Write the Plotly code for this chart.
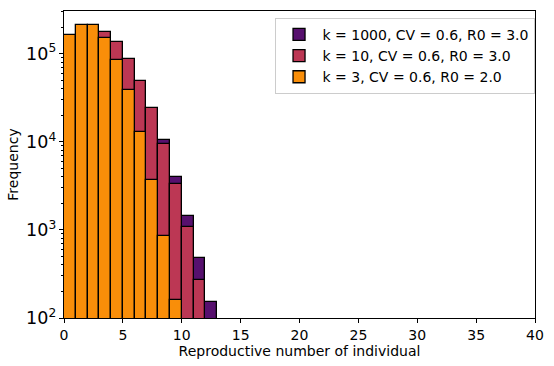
import plotly.graph_objects as go

# Histogram counts per unit-width bin (bin i covers [i, i+1))
bin_left = list(range(13))

counts_k1000 = [43000, 128000, 183000, 170000, 130000, 84000, 48000, 23500, 10400, 4000, 1430, 476, 150]
counts_k10 = [46000, 132000, 186000, 175000, 134000, 86400, 49100, 23900, 9370, 3290, 1080, 268, 80]
counts_k3 = [163000, 212000, 210000, 151000, 85800, 38300, 13000, 3650, 857, 161, 40, 8, 1]

series = [
    ("k = 1000, CV = 0.6, R0 = 3.0", counts_k1000, "#57106e"),
    ("k = 10, CV = 0.6, R0 = 3.0", counts_k10, "#bc3754"),
    ("k = 3, CV = 0.6, R0 = 2.0", counts_k3, "#f98e09"),
]

x_ticks = [0, 5, 10, 15, 20, 25, 30, 35, 40]

fig = go.Figure()
for name, counts, color in series:
    fig.add_trace(go.Bar(
        x=[b + 0.5 for b in bin_left],
        y=counts,
        width=1,
        name=name,
        marker=dict(color=color, line=dict(color="black", width=1.3)),
        opacity=1,
    ))

font = dict(family="DejaVu Sans", size=14, color="black")

fig.update_layout(
    width=554,
    height=366,
    margin=dict(l=64, r=12, t=10, b=44),
    barmode="overlay",
    bargap=0,
    plot_bgcolor="white",
    paper_bgcolor="white",
    font=font,
    showlegend=True,
    legend=dict(
        x=0.999, y=0.978, xanchor="right", yanchor="top",
        bgcolor="rgba(255,255,255,0.8)",
        bordercolor="#cccccc", borderwidth=1,
        font=font,
        itemwidth=37,
        tracegroupgap=0,
    ),
    xaxis=dict(
        range=[0, 40],
        tickvals=x_ticks,
        ticks="outside", ticklen=4, tickwidth=1, tickcolor="black",
        tickfont=font,
        showline=True, linecolor="black", linewidth=1, mirror=True,
        showgrid=False, zeroline=False,
        title=dict(text="Reproductive number of individual", font=font, standoff=3),
    ),
    yaxis=dict(
        type="log",
        range=[2, 5.484],
        dtick=1,
        exponentformat="power",
        ticks="outside", ticklen=4, tickwidth=1, tickcolor="black",
        tickfont=font,
        minor=dict(ticks="outside", ticklen=2, tickwidth=0.8, tickcolor="black", dtick="D1", showgrid=False),
        showline=True, linecolor="black", linewidth=1, mirror=True,
        showgrid=False, zeroline=False,
        title=dict(text="Frequency", font=font, standoff=4),
    ),
)

fig.write_html("out.html")
